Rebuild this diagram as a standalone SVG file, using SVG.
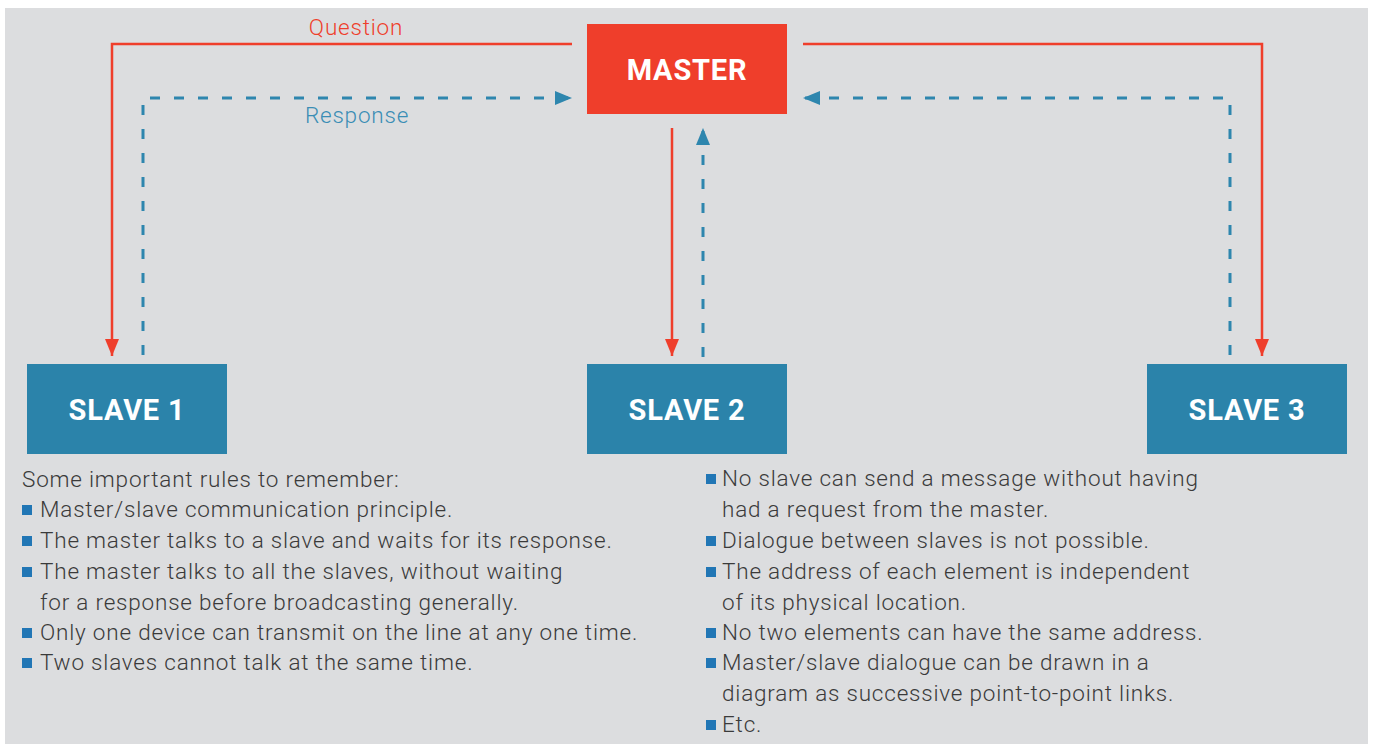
<svg xmlns="http://www.w3.org/2000/svg" width="1373" height="744" viewBox="0 0 1373 744">
<style>
.bg{fill:#dcdddf}
.master{fill:#ef3e2b}
.slave{fill:#2b83aa}
.lbl{font-family:Roboto,"Liberation Sans",sans-serif;font-weight:700;font-size:29px;letter-spacing:0.8px;fill:#fff;text-anchor:middle}
.q{stroke:#ef3e2b;stroke-width:2.5;fill:none}
.r{stroke:#2e86ae;stroke-width:3;fill:none;stroke-dasharray:10 14}
.txt{font-family:Roboto,"Liberation Sans",sans-serif;font-weight:300;font-size:22.5px;letter-spacing:0.8px;fill:#3a3a3a}
.cap{font-family:Roboto,"Liberation Sans",sans-serif;font-weight:300;font-size:22.5px;letter-spacing:0.8px;text-anchor:middle}
.bul{fill:#2176b5}
</style>
<defs>
<marker id="ah-red" viewBox="0 0 17 14" refX="17" refY="7" markerWidth="17" markerHeight="14" markerUnits="userSpaceOnUse" orient="auto"><path d="M0,0 L17,7 L0,14 z" fill="#ef3e2b"/></marker>
<marker id="ah-blue" viewBox="0 0 17 14" refX="17" refY="7" markerWidth="17" markerHeight="14" markerUnits="userSpaceOnUse" orient="auto"><path d="M0,0 L17,7 L0,14 z" fill="#2e86ae"/></marker>
</defs>
<rect class="bg" x="5" y="8" width="1363" height="736"/>
<g id="connectors">
<path class="q" d="M572,44 H112 V356" marker-end="url(#ah-red)"/>
<path class="q" d="M803,44 H1262 V356" marker-end="url(#ah-red)"/>
<path class="q" d="M672,128 V356" marker-end="url(#ah-red)"/>
<path class="r" d="M143,355 V98 H572" marker-end="url(#ah-blue)"/>
<path class="r" d="M1230,355 V98 H803" marker-end="url(#ah-blue)"/>
<path class="r" d="M703,357 V128" marker-end="url(#ah-blue)"/>
<text class="cap" x="356" y="35" fill="#ef3e2b">Question</text>
<text class="cap" x="357" y="123" fill="#3a8db5">Response</text>
</g>
<g id="master"><rect class="master" x="587" y="24" width="200" height="90"/><text class="lbl" x="687" y="80">MASTER</text></g>
<g id="slave1"><rect class="slave" x="27" y="364" width="200" height="90"/><text class="lbl" x="127" y="420">SLAVE 1</text></g>
<g id="slave2"><rect class="slave" x="587" y="364" width="200" height="90"/><text class="lbl" x="687" y="420">SLAVE 2</text></g>
<g id="slave3"><rect class="slave" x="1147" y="364" width="200" height="90"/><text class="lbl" x="1247" y="420">SLAVE 3</text></g>
<g id="rules-left">
<text class="txt" x="22" y="487">Some important rules to remember:</text>
<rect class="bul" x="22" y="505" width="10" height="10"/><text class="txt" x="40" y="517">Master/slave communication principle.</text>
<rect class="bul" x="22" y="536" width="10" height="10"/><text class="txt" x="40" y="548">The master talks to a slave and waits for its response.</text>
<rect class="bul" x="22" y="567" width="10" height="10"/><text class="txt" x="40" y="579">The master talks to all the slaves, without waiting</text>
<text class="txt" x="40" y="610">for a response before broadcasting generally.</text>
<rect class="bul" x="22" y="628" width="10" height="10"/><text class="txt" x="40" y="640">Only one device can transmit on the line at any one time.</text>
<rect class="bul" x="22" y="658" width="10" height="10"/><text class="txt" x="40" y="670">Two slaves cannot talk at the same time.</text>
</g>
<g id="rules-right">
<rect class="bul" x="706" y="474" width="10" height="10"/><text class="txt" x="722" y="486">No slave can send a message without having</text>
<text class="txt" x="722" y="517">had a request from the master.</text>
<rect class="bul" x="706" y="536" width="10" height="10"/><text class="txt" x="722" y="548">Dialogue between slaves is not possible.</text>
<rect class="bul" x="706" y="567" width="10" height="10"/><text class="txt" x="722" y="579">The address of each element is independent</text>
<text class="txt" x="722" y="610">of its physical location.</text>
<rect class="bul" x="706" y="628" width="10" height="10"/><text class="txt" x="722" y="640">No two elements can have the same address.</text>
<rect class="bul" x="706" y="658" width="10" height="10"/><text class="txt" x="722" y="670">Master/slave dialogue can be drawn in a</text>
<text class="txt" x="722" y="701">diagram as successive point-to-point links.</text>
<rect class="bul" x="706" y="720" width="10" height="10"/><text class="txt" x="722" y="732">Etc.</text>
</g>
</svg>
